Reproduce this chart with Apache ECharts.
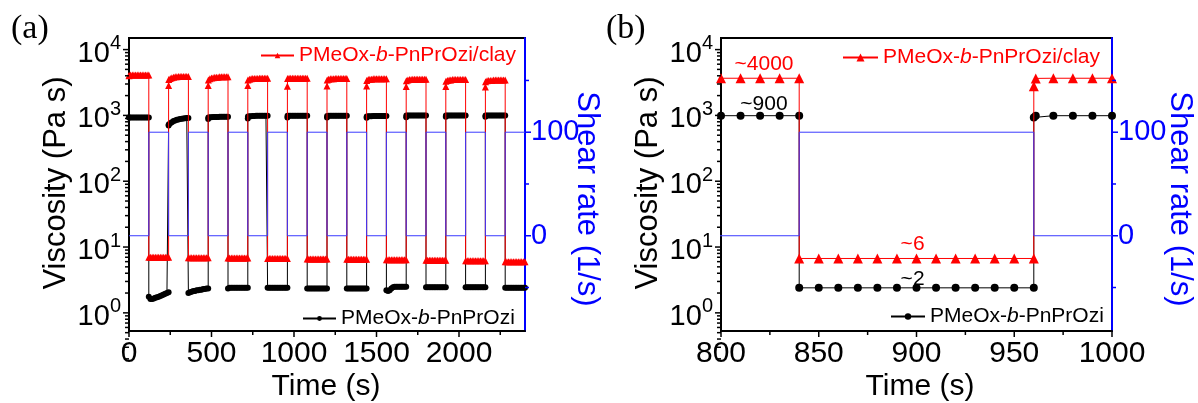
<!DOCTYPE html>
<html>
<head>
<meta charset="utf-8">
<script src="https://cdn.jsdelivr.net/npm/echarts@6/dist/echarts.min.js"></script>
<style>
  html, body { margin: 0; padding: 0; background: #fff; }
  #chart { width: 1198px; height: 403px; }
</style>
</head>
<body>
<div id="chart"></div>
<script>
// Step-shear recovery: 120 s intervals alternating between rest (0 1/s) and 100 1/s.
const INTERVAL_STARTS = [0, 120, 240, 360, 480, 600, 720, 840, 960, 1080,
                         1200, 1320, 1440, 1560, 1680, 1800, 1920, 2040, 2160, 2280];
const INTERVAL_LENGTH = 120; // s
const SHEAR_RATE = [0, 100, 0, 100, 0, 100, 0, 100, 0, 100,
                    0, 100, 0, 100, 0, 100, 0, 100, 0, 100]; // 1/s

// Sampling times inside an interval (s after its start); rest intervals log an extra point right after the step
const REST_OFFSETS  = [0, 1, 10, 20, 30, 40, 50, 60, 70, 80, 90, 100, 110, 120];
const SHEAR_OFFSETS = [0, 10, 20, 30, 40, 50, 60, 70, 80, 90, 100, 110, 120];

// Viscosity (Pa s), one row per interval
const CLAY_VISCOSITY = [
  [4000, 4050, 4100, 4100, 4100, 4100, 4100, 4100, 4100, 4100, 4100, 4100, 4100, 4100],
  [7.0, 7.0, 7.0, 7.0, 7.0, 7.0, 7.0, 7.0, 7.0, 7.0, 7.0, 7.0, 7.0],
  [2850, 3500, 3650, 3750, 3800, 3850, 3850, 3900, 3900, 3900, 3900, 3900, 3900, 3900],
  [6.9, 6.9, 6.9, 6.9, 6.9, 6.9, 6.9, 6.9, 6.9, 6.9, 6.9, 6.9, 6.9],
  [2850, 3450, 3600, 3700, 3750, 3800, 3800, 3800, 3850, 3850, 3850, 3850, 3850, 3850],
  [6.8, 6.8, 6.8, 6.8, 6.8, 6.8, 6.8, 6.8, 6.8, 6.8, 6.8, 6.8, 6.8],
  [2850, 3450, 3550, 3600, 3650, 3650, 3650, 3650, 3670, 3670, 3670, 3670, 3670, 3670],
  [6.7, 6.7, 6.7, 6.7, 6.7, 6.7, 6.7, 6.7, 6.7, 6.7, 6.7, 6.7, 6.7],
  [2780, 3650, 3670, 3670, 3670, 3670, 3670, 3670, 3670, 3670, 3670, 3670, 3670, 3670],
  [6.6, 6.6, 6.6, 6.6, 6.6, 6.6, 6.6, 6.6, 6.6, 6.6, 6.6, 6.6, 6.6],
  [2800, 3450, 3550, 3600, 3600, 3600, 3650, 3650, 3650, 3650, 3650, 3650, 3650, 3650],
  [6.5, 6.5, 6.5, 6.5, 6.5, 6.5, 6.5, 6.5, 6.5, 6.5, 6.5, 6.5, 6.5],
  [2800, 3400, 3500, 3550, 3550, 3600, 3600, 3600, 3600, 3600, 3600, 3600, 3600, 3600],
  [6.4, 6.4, 6.4, 6.4, 6.4, 6.4, 6.4, 6.4, 6.4, 6.4, 6.4, 6.4, 6.4],
  [2750, 3350, 3450, 3500, 3500, 3550, 3550, 3550, 3550, 3550, 3550, 3550, 3550, 3550],
  [6.3, 6.3, 6.3, 6.3, 6.3, 6.3, 6.3, 6.3, 6.3, 6.3, 6.3, 6.3, 6.3],
  [2750, 3300, 3400, 3450, 3450, 3500, 3500, 3500, 3500, 3500, 3500, 3500, 3500, 3500],
  [6.2, 6.2, 6.2, 6.2, 6.2, 6.2, 6.2, 6.2, 6.2, 6.2, 6.2, 6.2, 6.2],
  [2700, 3250, 3350, 3400, 3400, 3400, 3450, 3450, 3450, 3450, 3450, 3450, 3450, 3450],
  [6.0, 6.0, 6.0, 6.0, 6.0, 6.0, 6.0, 6.0, 6.0, 6.0, 6.0, 6.0, 6.0]
];
const NEAT_VISCOSITY = [
  [930, 930, 930, 930, 930, 930, 930, 930, 930, 930, 930, 930, 930, 930],
  [1.75, 1.62, 1.62, 1.65, 1.70, 1.72, 1.75, 1.80, 1.85, 1.90, 1.95, 2.00, 2.05],
  [700, 730, 760, 790, 820, 840, 860, 870, 880, 890, 900, 905, 910, 915],
  [2.00, 2.05, 2.10, 2.15, 2.15, 2.20, 2.20, 2.25, 2.25, 2.30, 2.30, 2.35, 2.35],
  [880, 930, 940, 940, 945, 945, 945, 945, 950, 950, 950, 950, 950, 950],
  [2.35, 2.40, 2.40, 2.40, 2.40, 2.40, 2.40, 2.40, 2.40, 2.40, 2.40, 2.40, 2.40],
  [900, 960, 970, 975, 980, 980, 985, 985, 990, 990, 990, 990, 990, 990],
  [2.40, 2.40, 2.40, 2.40, 2.40, 2.40, 2.40, 2.40, 2.40, 2.40, 2.40, 2.40, 2.40],
  [930, 990, 990, 990, 990, 990, 990, 990, 990, 990, 990, 990, 990, 990],
  [2.35, 2.35, 2.35, 2.35, 2.35, 2.35, 2.35, 2.35, 2.35, 2.35, 2.35, 2.35, 2.35],
  [930, 980, 985, 990, 990, 990, 990, 990, 990, 990, 990, 990, 990, 990],
  [2.35, 2.35, 2.35, 2.35, 2.35, 2.35, 2.35, 2.35, 2.35, 2.35, 2.35, 2.35, 2.35],
  [920, 960, 970, 975, 975, 980, 980, 980, 980, 980, 980, 980, 980, 980],
  [2.20, 2.15, 2.20, 2.35, 2.45, 2.50, 2.50, 2.50, 2.50, 2.50, 2.50, 2.50, 2.50],
  [940, 1000, 1000, 1000, 1000, 1000, 1000, 1000, 1000, 1000, 1000, 1000, 1000, 1000],
  [2.45, 2.45, 2.45, 2.45, 2.45, 2.45, 2.45, 2.45, 2.45, 2.45, 2.45, 2.45, 2.45],
  [950, 1000, 1000, 1000, 1000, 1000, 1000, 1000, 1000, 1000, 1000, 1000, 1000, 1000],
  [2.45, 2.45, 2.45, 2.45, 2.45, 2.45, 2.45, 2.45, 2.45, 2.45, 2.45, 2.45, 2.45],
  [950, 1000, 1000, 1000, 1000, 1000, 1000, 1000, 1000, 1000, 1000, 1000, 1000, 1000],
  [2.40, 2.40, 2.40, 2.40, 2.40, 2.40, 2.40, 2.40, 2.40, 2.40, 2.40, 2.40, 2.40]
];

const LEGEND_TEXT = { clay: ['PMeOx-', 'b', '-PnPrOzi/clay'], neat: ['PMeOx-', 'b', '-PnPrOzi'] };
const PANEL_TAGS = ['(a)', '(b)'];
const AXIS_TITLES = { time: 'Time (s)', viscosity: 'Viscosity (Pa s)', shear: 'Shear rate (1/s)' };
// Plateau annotations in panel (b): [text, interval index, time]
const PLATEAU_NOTES = [['~4000', 6, 822], ['~900', 6, 822], ['~6', 7, 898], ['~2', 7, 898]];

// Axis tick values
const A_TIME_MAJOR = [0, 500, 1000, 1500, 2000];
const A_TIME_MINOR = [250, 750, 1250, 1750, 2250];
const B_TIME_MAJOR = [800, 850, 900, 950, 1000];
const B_TIME_MINOR = [825, 875, 925, 975];
const VISC_DECADES = [1, 10, 100, 1000, 10000];
const SHEAR_MAJOR = [0, 100];
const SHEAR_MINOR = [-50, 50, 150];

const SANS = '"Liberation Sans", Arial, Helvetica, sans-serif';
const SERIF = '"Liberation Serif", "Times New Roman", serif';
const RED = '#ff0000', BLUE = '#0000ff', LINE_BLUE = '#3a3aff';

function buildPoints(rows) {
  const pts = [];
  rows.forEach((row, k) => {
    const offs = SHEAR_RATE[k] === 0 ? REST_OFFSETS : SHEAR_OFFSETS;
    row.forEach((v, i) => pts.push([INTERVAL_STARTS[k] + offs[i], v]));
  });
  return pts;
}
function buildShear() {
  const pts = [];
  INTERVAL_STARTS.forEach((t, k) => {
    pts.push([t, SHEAR_RATE[k]]);
    pts.push([t + INTERVAL_LENGTH, SHEAR_RATE[k]]);
  });
  return pts;
}
const clayPts = buildPoints(CLAY_VISCOSITY);
const neatPts = buildPoints(NEAT_VISCOSITY);
const shearPts = buildShear();

// Minor log ticks between decades
const viscMinor = [];
[0.1, 1, 10, 100, 1000].forEach(d => { for (let m = 2; m <= 9; m++) viscMinor.push(d * m); });

function decadeLabel(v) {
  const e = Math.log10(v);
  const r = Math.round(e);
  if (Math.abs(e - r) > 1e-6 || r < 0 || r > 4) return '';
  return '{b|10}{s|' + r + '}';
}
const decadeRich = {
  b: { fontSize: 29, fontFamily: SANS, color: '#000', lineHeight: 32, padding: [8, 0, 0, 0] },
  s: { fontSize: 20, fontFamily: SANS, color: '#000', lineHeight: 30, verticalAlign: 'top' }
};

function legendFormatter(parts, color) {
  return {
    formatter: () => '{n|' + parts[0] + '}{i|' + parts[1] + '}{n|' + parts[2] + '}',
    textStyle: {
      rich: {
        n: { fontSize: 21, fontFamily: SANS, color: color },
        i: { fontSize: 21, fontFamily: SANS, color: color, fontStyle: 'italic' }
      }
    }
  };
}

// Short tick marks drawn through the axes' own scales
// item: [x, y, side(0 bottom, 1 left, 2 right), length]
function tickSeries(xIdx, yIdx, items, color) {
  return {
    type: 'custom', xAxisIndex: xIdx, yAxisIndex: yIdx, silent: true, z: 5, clip: false,
    data: items,
    renderItem(params, api) {
      const side = api.value(2), len = api.value(3);
      const p = api.coord([api.value(0), api.value(1)]);
      const cs = params.coordSys;
      let shape;
      if (side === 0) {
        const y = cs.y + cs.height;
        shape = { x1: p[0], y1: y, x2: p[0], y2: y + len };
      } else if (side === 1) {
        shape = { x1: cs.x, y1: p[1], x2: cs.x - len, y2: p[1] };
      } else {
        const x = cs.x + cs.width;
        shape = { x1: x, y1: p[1], x2: x + len, y2: p[1] };
      }
      return { type: 'line', shape, style: { stroke: color, lineWidth: 1.5 } };
    }
  };
}
function viscTicks(xMin, timeMajor, timeMinor) {
  const it = [];
  timeMajor.forEach(t => it.push([t, 1, 0, 6]));
  timeMinor.forEach(t => it.push([t, 1, 0, 4]));
  VISC_DECADES.forEach(v => it.push([xMin, v, 1, 6]));
  viscMinor.forEach(v => it.push([xMin, v, 1, 4]));
  return it;
}
function shearTicks(xMin) {
  const it = [];
  SHEAR_MAJOR.forEach(v => it.push([xMin, v, 2, 6]));
  SHEAR_MINOR.forEach(v => it.push([xMin, v, 2, 4]));
  return it;
}

function timeAxis(grid, min, max, interval, labels) {
  return {
    gridIndex: grid, type: 'value', min, max, interval,
    axisLine: { show: true, onZero: false, lineStyle: { color: '#000', width: 2 } },
    axisTick: { show: false }, splitLine: { show: false },
    axisLabel: {
      fontSize: 30, fontFamily: SANS, color: '#000', margin: 8,
      formatter: v => labels.includes(v) ? String(v) : ''
    }
  };
}
function viscAxis(grid) {
  return {
    gridIndex: grid, type: 'log', logBase: 10, min: 0.53, max: 15000, position: 'left',
    axisLine: { show: true, onZero: false, lineStyle: { color: '#000', width: 2 } },
    axisTick: { show: false }, splitLine: { show: false }, minorTick: { show: false },
    axisLabel: { margin: 8, formatter: decadeLabel, rich: decadeRich }
  };
}
function shearAxis(grid) {
  return {
    gridIndex: grid, type: 'value', min: -92, max: 191, position: 'right',
    axisLine: { show: true, onZero: false, lineStyle: { color: BLUE, width: 2 } },
    axisTick: { show: false }, splitLine: { show: false },
    axisLabel: {
      fontSize: 29, fontFamily: SANS, color: BLUE, margin: 6,
      formatter: v => SHEAR_MAJOR.includes(v) ? String(v) : ''
    }
  };
}

function viscSeries(name, pts, xIdx, yIdx, kind, size) {
  const clay = kind === 'clay';
  return {
    name, type: 'line', xAxisIndex: xIdx, yAxisIndex: yIdx, data: pts,
    symbol: clay ? 'triangle' : 'circle', symbolSize: size, showSymbol: true,
    z: clay ? 3 : 2, animation: false,
    lineStyle: { color: clay ? RED : '#000', width: 1 },
    itemStyle: { color: clay ? RED : '#000' }
  };
}

function noteMark(kind) {
  const rows = kind === 'clay' ? CLAY_VISCOSITY : NEAT_VISCOSITY;
  const color = kind === 'clay' ? RED : '#000';
  const notes = PLATEAU_NOTES.filter((n, i) => (kind === 'clay') === (i % 2 === 0));
  return {
    symbol: 'circle', symbolSize: 0, silent: true,
    data: notes.map(n => ({
      coord: [n[2], rows[n[1]][rows[n[1]].length - 1]],
      label: {
        show: true, formatter: n[0], position: 'inside',
        offset: [0, kind === 'clay' ? -14 : (n[1] === 6 ? -11 : -9)],
        fontSize: 21, fontFamily: SANS, color
      }
    }))
  };
}

const clayB = viscSeries('clay (b)', clayPts, 1, 2, 'clay', 10);
clayB.markPoint = noteMark('clay');
const neatB = viscSeries('neat (b)', neatPts, 1, 2, 'neat', 8);
neatB.markPoint = noteMark('neat');

const shearLine = (xIdx, yIdx) => ({
  type: 'line', xAxisIndex: xIdx, yAxisIndex: yIdx, data: shearPts,
  showSymbol: false, symbol: 'none', z: 4, animation: false,
  lineStyle: { color: LINE_BLUE, width: 1 }
});

function legendAt(name, parts, color, left, top, itemWidth, itemHeight) {
  return Object.assign({
    data: [name], left, top, itemWidth, itemHeight, selectedMode: false,
    padding: 0, itemGap: 0
  }, legendFormatter(parts, color));
}

// Axis titles, centred at the given pixel point
function title(text, x, y, rotation, size, color) {
  return {
    type: 'text', x, y, rotation, silent: true,
    style: { text, font: size + 'px ' + SANS, fill: color, textAlign: 'center', textVerticalAlign: 'middle' }
  };
}

const chart = echarts.init(document.getElementById('chart'), null, { renderer: 'canvas' });
chart.setOption({
  animation: false,
  backgroundColor: '#fff',
  grid: [
    { left: 129, top: 38, width: 396, height: 293, show: true, borderColor: '#000', borderWidth: 2 },
    { left: 721, top: 38, width: 391, height: 293, show: true, borderColor: '#000', borderWidth: 2 }
  ],
  xAxis: [
    timeAxis(0, 0, 2400, 500, A_TIME_MAJOR),
    timeAxis(1, 800, 1000, 50, B_TIME_MAJOR)
  ],
  yAxis: [viscAxis(0), shearAxis(0), viscAxis(1), shearAxis(1)],
  legend: [
    legendAt('clay (a)', LEGEND_TEXT.clay, RED, 260, 45, 33, 7),
    legendAt('neat (a)', LEGEND_TEXT.neat, '#000', 302, 308, 33, 6),
    legendAt('clay (b)', LEGEND_TEXT.clay, RED, 842, 47, 35, 10),
    legendAt('neat (b)', LEGEND_TEXT.neat, '#000', 890, 306, 34, 8)
  ],
  graphic: [
    { type: 'text', left: 11, top: 12, style: { text: PANEL_TAGS[0], font: '34px ' + SERIF, fill: '#000' } },
    { type: 'text', left: 606, top: 12, style: { text: PANEL_TAGS[1], font: '34px ' + SERIF, fill: '#000' } },
    title(AXIS_TITLES.time, 326, 387, 0, 30, '#000'),
    title(AXIS_TITLES.time, 920, 387, 0, 30, '#000'),
    title(AXIS_TITLES.viscosity, 56, 183, Math.PI / 2, 31, '#000'),
    title(AXIS_TITLES.viscosity, 648, 183, Math.PI / 2, 31, '#000'),
    title(AXIS_TITLES.shear, 587, 199, -Math.PI / 2, 31, BLUE),
    title(AXIS_TITLES.shear, 1180, 199, -Math.PI / 2, 31, BLUE)
  ],
  series: [
    viscSeries('neat (a)', neatPts, 0, 0, 'neat', 6),
    viscSeries('clay (a)', clayPts, 0, 0, 'clay', 7),
    shearLine(0, 1),
    neatB, clayB,
    shearLine(1, 3),
    tickSeries(0, 0, viscTicks(0, A_TIME_MAJOR, A_TIME_MINOR), '#000'),
    tickSeries(0, 1, shearTicks(0), BLUE),
    tickSeries(1, 2, viscTicks(800, B_TIME_MAJOR, B_TIME_MINOR), '#000'),
    tickSeries(1, 3, shearTicks(800), BLUE)
  ]
});
</script>
</body>
</html>
